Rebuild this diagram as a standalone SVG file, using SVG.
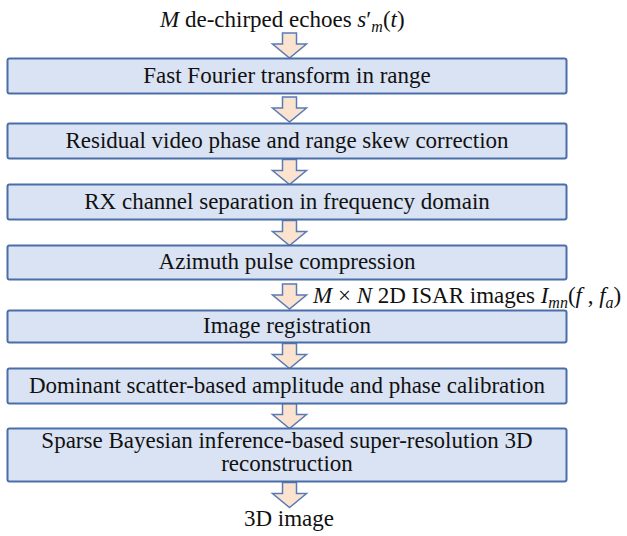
<svg xmlns="http://www.w3.org/2000/svg" xmlns:xlink="http://www.w3.org/1999/xlink" width="627" height="536" viewBox="0 0 627 536">
<style>
.box{fill:#dae3f3;stroke:#4a6fa8;stroke-width:2}
.t{font-family:"Liberation Serif","Times New Roman",serif;font-size:23px;fill:#111;text-anchor:middle}
.l{font-family:"Liberation Serif","Times New Roman",serif;font-size:23px;fill:#111}
.i{font-style:italic}
.arr{fill:#fbe3d0;stroke:#5a7bb5;stroke-width:1.5;stroke-linejoin:miter}
</style>
<defs>
<path id="arrow" d="M-7,0 H7 V11 H17 L0,25 L-17,11 H-7 Z"/>
</defs>
<rect width="627" height="536" fill="#fff"/>
<g id="input">
<text class="l" x="160" y="27"><tspan class="i">M</tspan> de-chirped echoes <tspan class="i">s</tspan>′<tspan class="i" font-size="16" dy="5">m</tspan><tspan dy="-5">(</tspan><tspan class="i">t</tspan>)</text>
</g>
<g id="connectors">
<use xlink:href="#arrow" class="arr" transform="translate(289.5,33)"/>
<use xlink:href="#arrow" class="arr" transform="translate(289.5,97)"/>
<use xlink:href="#arrow" class="arr" transform="translate(289.5,159.5)"/>
<use xlink:href="#arrow" class="arr" transform="translate(289.5,220.5)"/>
<use xlink:href="#arrow" class="arr" transform="translate(289.5,284)"/>
<use xlink:href="#arrow" class="arr" transform="translate(289.5,343.5)"/>
<use xlink:href="#arrow" class="arr" transform="translate(289.5,403.5)"/>
<use xlink:href="#arrow" class="arr" transform="translate(289.5,482.5)"/>
<text class="l" x="313" y="303"><tspan class="i">M</tspan> × <tspan class="i">N</tspan> 2D ISAR images <tspan class="i">I</tspan><tspan class="i" font-size="16" dy="5">mn</tspan><tspan dy="-5">(</tspan><tspan class="i">f</tspan> , <tspan class="i">f</tspan><tspan class="i" font-size="16" dy="5">a</tspan><tspan dy="-5">)</tspan></text>
</g>
<g id="fft">
<rect class="box" x="7.5" y="58.5" width="559" height="35" rx="2"/>
<text class="t" x="287" y="83">Fast Fourier transform in range</text>
</g>
<g id="rvp">
<rect class="box" x="7.5" y="123.5" width="559" height="35" rx="2"/>
<text class="t" x="287" y="148">Residual video phase and range skew correction</text>
</g>
<g id="rx">
<rect class="box" x="7.5" y="184.5" width="559" height="35" rx="2"/>
<text class="t" x="287" y="209">RX channel separation in frequency domain</text>
</g>
<g id="azimuth">
<rect class="box" x="7.5" y="245.5" width="559" height="34" rx="2"/>
<text class="t" x="287" y="269">Azimuth pulse compression</text>
</g>
<g id="registration">
<rect class="box" x="7.5" y="310.5" width="559" height="32" rx="2"/>
<text class="t" x="287" y="333">Image registration</text>
</g>
<g id="calibration">
<rect class="box" x="7.5" y="368.5" width="559" height="35" rx="2"/>
<text class="t" x="287" y="393">Dominant scatter-based amplitude and phase calibration</text>
</g>
<g id="reconstruction">
<rect class="box" x="7.5" y="428.5" width="559" height="53" rx="2"/>
<text class="t" x="287" y="448">Sparse Bayesian inference-based super-resolution 3D</text>
<text class="t" x="287" y="471">reconstruction</text>
</g>
<g id="output">
<text class="t" x="289" y="526">3D image</text>
</g>
</svg>
